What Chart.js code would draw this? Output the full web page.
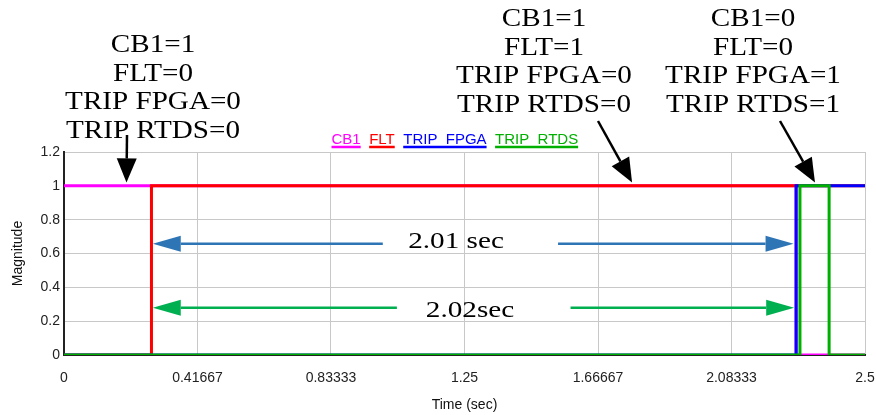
<!DOCTYPE html>
<html>
<head>
<meta charset="utf-8">
<script src="https://cdn.jsdelivr.net/npm/chart.js@4.4.0/dist/chart.umd.min.js"></script>
<style>
  body { margin: 0; background: #fff; }
</style>
</head>
<body>
<canvas id="trip-chart" width="876" height="415"></canvas>
<script>
// signal edges (time in sec), value holds until the next point
var cb1Time = [0, 2.285, 2.5];
var cb1Val = [1, 0, 0];
var fltTime = [0, 0.273, 2.5];
var fltVal = [0, 1, 1];
var fpgaTime = [0, 2.285, 2.5];
var fpgaVal = [0, 1, 1];
var rtdsTime = [0, 2.297, 2.388, 2.5];
var rtdsVal = [0, 1, 0, 0];

var seriesNames = ["CB1", "FLT", "TRIP  FPGA", "TRIP  RTDS"];
var seriesColors = ["#ff00ff", "#ff0000", "#0000ff", "#00b000"];

var xTickVals = [0, 0.41667, 0.83333, 1.25, 1.66667, 2.08333, 2.5];
var xTickLabels = ["0", "0.41667", "0.83333", "1.25", "1.66667", "2.08333", "2.5"];
var yTickVals = [0, 0.2, 0.4, 0.6, 0.8, 1, 1.2];
var yTickLabels = ["0", "0.2", "0.4", "0.6", "0.8", "1", "1.2"];

// state callouts above the plot
var stateNotes = [
  { cx: 153, base: 52, lines: ["CB1=1", "FLT=0", "TRIP FPGA=0", "TRIP RTDS=0"], tail: [127, 135], tip: [0.195, 1.02] },
  { cx: 544, base: 26, lines: ["CB1=1", "FLT=1", "TRIP FPGA=0", "TRIP RTDS=0"], tail: [598, 121], tip: [1.773, 1.02] },
  { cx: 753, base: 26, lines: ["CB1=0", "FLT=0", "TRIP FPGA=1", "TRIP RTDS=1"], tail: [780, 121], tip: [2.344, 1.02] }
];

// measured delays: arrows from the text out to the edges
var delayNotes = [
  { text: "2.01 sec", cx: 456, base: 248, y: 0.658, color: "#2e75b6", left: [0.995, 0.277], right: [1.542, 2.277] },
  { text: "2.02sec", cx: 470, base: 317, y: 0.28, color: "#00b050", left: [1.039, 0.277], right: [1.581, 2.279] }
];

function toPoints(t, v) {
  return t.map(function (x, i) { return { x: x, y: v[i] }; });
}

function drawArrow(ctx, x1, y1, x2, y2, color, lw, headLen, headHalf) {
  var ang = Math.atan2(y2 - y1, x2 - x1);
  var bx = x2 - headLen * Math.cos(ang), by = y2 - headLen * Math.sin(ang);
  ctx.strokeStyle = color;
  ctx.fillStyle = color;
  ctx.lineWidth = lw;
  ctx.beginPath();
  ctx.moveTo(x1, y1);
  ctx.lineTo(bx, by);
  ctx.stroke();
  ctx.beginPath();
  ctx.moveTo(x2, y2);
  ctx.lineTo(bx + headHalf * Math.sin(ang), by - headHalf * Math.cos(ang));
  ctx.lineTo(bx - headHalf * Math.sin(ang), by + headHalf * Math.cos(ang));
  ctx.closePath();
  ctx.fill();
}

function stretchedText(ctx, text, cx, y, sx) {
  ctx.save();
  ctx.translate(cx, y);
  ctx.scale(sx, 1);
  ctx.fillText(text, 0, 0);
  ctx.restore();
}

var notesPlugin = {
  id: 'notes',
  afterDraw: function (chart) {
    var ctx = chart.ctx, xs = chart.scales.x, ys = chart.scales.y;
    ctx.save();

    // legend: coloured text with underline
    ctx.font = '15px "Liberation Sans", Arial, sans-serif';
    ctx.textAlign = 'left';
    ctx.textBaseline = 'alphabetic';
    var lx = 331.5;
    seriesNames.forEach(function (name, i) {
      var w = ctx.measureText(name).width;
      ctx.fillStyle = seriesColors[i];
      ctx.fillText(name, lx, 144);
      ctx.strokeStyle = seriesColors[i];
      ctx.lineWidth = 2.5;
      ctx.beginPath();
      ctx.moveTo(lx, 147);
      ctx.lineTo(lx + w, 147);
      ctx.stroke();
      lx += w + 8.5;
    });

    // state callouts
    ctx.font = '26px "Liberation Serif", "Times New Roman", serif';
    ctx.textAlign = 'center';
    stateNotes.forEach(function (n) {
      ctx.fillStyle = '#000';
      n.lines.forEach(function (line, k) {
        stretchedText(ctx, line, n.cx, n.base + k * 28.5, 1.12);
      });
      drawArrow(ctx, n.tail[0], n.tail[1], xs.getPixelForValue(n.tip[0]), ys.getPixelForValue(n.tip[1]),
        '#000', 2.5, 24, 10);
    });

    // delay arrows
    ctx.font = '23px "Liberation Serif", "Times New Roman", serif';
    delayNotes.forEach(function (d) {
      var py = ys.getPixelForValue(d.y);
      drawArrow(ctx, xs.getPixelForValue(d.left[0]), py, xs.getPixelForValue(d.left[1]), py, d.color, 2.5, 28, 8);
      drawArrow(ctx, xs.getPixelForValue(d.right[0]), py, xs.getPixelForValue(d.right[1]), py, d.color, 2.5, 28, 8);
      ctx.fillStyle = '#000';
      stretchedText(ctx, d.text, d.cx, d.base, 1.27);
    });

    ctx.restore();
  }
};

var traceData = {
  datasets: [
    { label: seriesNames[0], data: toPoints(cb1Time, cb1Val), borderColor: seriesColors[0], order: 3 },
    { label: seriesNames[1], data: toPoints(fltTime, fltVal), borderColor: seriesColors[1], order: 2 },
    { label: seriesNames[2], data: toPoints(fpgaTime, fpgaVal), borderColor: seriesColors[2], order: 1 },
    { label: seriesNames[3], data: toPoints(rtdsTime, rtdsVal), borderColor: seriesColors[3], order: 0 }
  ]
};
traceData.datasets.forEach(function (ds) {
  ds.stepped = 'before';
  ds.borderWidth = 3;
  ds.pointRadius = 0;
  ds.fill = false;
});

var tickFont = { family: '"Liberation Sans", Arial, sans-serif', size: 14 };

var chartOptions = {
  responsive: false,
  animation: false,
  layout: { padding: { top: 152, right: 11, left: 0, bottom: 0 } },
  plugins: {
    legend: { display: false },
    tooltip: { enabled: false }
  },
  scales: {
    x: {
      type: 'linear',
      min: 0,
      max: 2.5,
      afterBuildTicks: function (scale) {
        scale.ticks = xTickVals.map(function (v) { return { value: v }; });
      },
      afterFit: function (scale) {
        scale.height = 60;
        scale.paddingLeft = 0;
        scale.paddingRight = 0;
      },
      ticks: {
        autoSkip: false,
        maxRotation: 0,
        padding: 15,
        color: '#222',
        font: tickFont,
        callback: function (v, i) { return xTickLabels[i]; }
      },
      grid: { color: '#c8c8c8', lineWidth: 1, drawTicks: false },
      border: { color: '#222', width: 2 },
      title: { display: true, text: 'Time (sec)', color: '#111', font: tickFont, padding: { top: 0, bottom: 1 } }
    },
    y: {
      min: 0,
      max: 1.2,
      afterBuildTicks: function (scale) {
        scale.ticks = yTickVals.map(function (v) { return { value: v }; });
      },
      afterFit: function (scale) {
        scale.width = 64;
        scale.paddingTop = 0;
        scale.paddingBottom = 0;
      },
      ticks: {
        padding: 4,
        color: '#222',
        font: tickFont,
        callback: function (v, i) { return yTickLabels[i]; }
      },
      grid: { color: '#c8c8c8', lineWidth: 1, drawTicks: false },
      border: { color: '#222', width: 2 },
      title: { display: true, text: 'Magnitude', color: '#111', font: tickFont, padding: { top: 10, bottom: 0 } }
    }
  }
};

var tripCanvas = document.getElementById("trip-chart");
var tripChart = new Chart(tripCanvas, {
  type: 'line',
  data: traceData,
  options: chartOptions,
  plugins: [notesPlugin]
});
</script>
</body>
</html>
